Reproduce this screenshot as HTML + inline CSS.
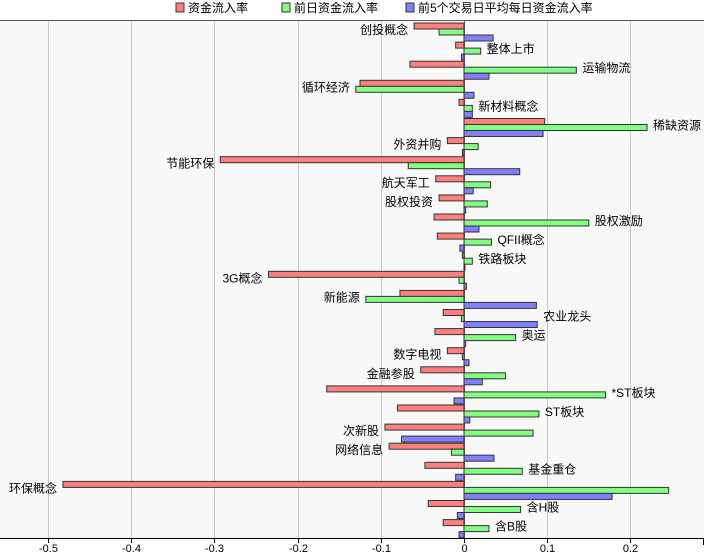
<!DOCTYPE html>
<html><head><meta charset="utf-8"><style>
body{margin:0;background:#fff;}
svg{display:block;font-family:"Liberation Sans","Noto Sans CJK SC",sans-serif;}
</style></head><body>
<svg id="c" width="704" height="556" xmlns="http://www.w3.org/2000/svg">
<rect x="0" y="20" width="704" height="518" fill="#f8f8f8"/>
<g font-size="12" fill="#000">
<rect x="176" y="3" width="8" height="9" fill="#ff7f7f" stroke="#333"/><text x="188" y="12">资金流入率</text>
<rect x="282" y="3" width="8" height="9" fill="#80ff80" stroke="#333"/><text x="294" y="12">前日资金流入率</text>
<rect x="406" y="3" width="8" height="9" fill="#8080ff" stroke="#333"/><text x="418" y="12">前5个交易日平均每日资金流入率</text>
</g>
<g id="grid"></g>
<g id="bars"></g>
<g id="labels" font-size="12"></g>
<line x1="0" y1="20.5" x2="704" y2="20.5" stroke="#555"/>
<line x1="0" y1="538.5" x2="704" y2="538.5" stroke="#000"/>
<line x1="703.5" y1="538" x2="703.5" y2="545" stroke="#000"/>
<g id="ticks" font-size="11" text-anchor="middle"></g>
</svg>
<script>
var d=[["创投概念",-0.06,-0.03,0.035],["整体上市",-0.01,0.02,-0.003],["运输物流",-0.065,0.135,0.03],["循环经济",-0.125,-0.13,0.012],["新材料概念",-0.006,0.01,0.01],["稀缺资源",0.097,0.22,0.095],["外资并购",-0.02,0.017,-0.002],["节能环保",-0.293,-0.067,0.067],["航天军工",-0.034,0.032,0.011],["股权投资",-0.03,0.028,0.002],["股权激励",-0.036,0.15,0.018],["QFII概念",-0.032,0.033,-0.005],["铁路板块",-0.002,0.01,0.001],["3G概念",-0.235,-0.006,0.003],["新能源",-0.077,-0.118,0.087],["农业龙头",-0.025,-0.003,0.088],["奥运",-0.035,0.062,0.002],["数字电视",-0.02,-0.002,0.006],["金融参股",-0.052,0.05,0.022],["*ST板块",-0.165,0.17,-0.012],["ST板块",-0.08,0.09,0.007],["次新股",-0.095,0.083,-0.075],["网络信息",-0.09,-0.015,0.036],["基金重仓",-0.047,0.07,-0.01],["环保概念",-0.482,0.246,0.178],["含H股",-0.043,0.068,-0.008],["含B股",-0.025,0.03,-0.006]];
var ns="http://www.w3.org/2000/svg";
function X(v){return 464+v*832;}
function el(p,t,a,txt){var e=document.createElementNS(ns,t);for(var k in a)e.setAttribute(k,a[k]);if(txt)e.textContent=txt;document.getElementById(p).appendChild(e);}
for(var i=-5;i<=2;i++){var x=Math.round(X(i/10))+0.5;el("grid","line",{x1:x,y1:21,x2:x,y2:538,stroke:"#c8c8c8"});
el("grid","line",{x1:x,y1:538,x2:x,y2:543,stroke:"#000"});
el("ticks","text",{x:x,y:552},i==0?"0":(i/10).toString());}
el("grid","line",{x1:464.5,y1:21,x2:464.5,y2:538,stroke:"#666"});
var cols=["#ff7f7f","#80ff80","#8080ff"];
d.forEach(function(r,i){var y=23+i*19.1;
for(var j=0;j<3;j++){var v=r[j+1],x0=X(0),x1=X(v);var a=Math.min(x0,x1),w=Math.max(Math.abs(x1-x0),1);
el("bars","rect",{x:a,y:y+j*6,width:w,height:6,fill:cols[j],stroke:"#333","stroke-width":1});}
var mx=Math.max(r[1],r[2],r[3],0),mn=Math.min(r[1],r[2],r[3],0);
if(mx>-mn)el("labels","text",{x:X(mx)+6,y:y+11},r[0]);
else el("labels","text",{x:X(mn)-6,y:y+11,"text-anchor":"end"},r[0]);});
</script>
</body></html>
